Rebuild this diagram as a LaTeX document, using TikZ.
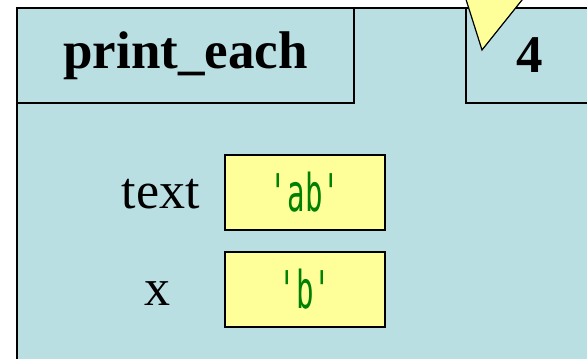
\documentclass[tikz,border=0pt]{standalone}
\usepackage{fontspec}
\setmainfont{Liberation Serif}
\newfontfamily\valfont[FakeStretch=0.56]{DejaVu Sans Mono}
\usetikzlibrary{positioning}
\definecolor{framebg}{RGB}{186,223,227}
\definecolor{valbg}{RGB}{255,255,153}
\definecolor{valtext}{RGB}{0,128,0}
\tikzset{
  framebox/.style={rectangle, draw=black, line width=1pt, fill=framebg, inner sep=0pt, anchor=north west},
  valbox/.style={rectangle, draw=black, line width=1pt, fill=valbg, minimum width=80pt, minimum height=37.5pt, inner sep=0pt, font=\valfont\fontsize{26}{30}\selectfont, text=valtext},
  varname/.style={inner sep=0pt, font=\fontsize{26}{30}\selectfont}
}
\begin{document}
\begin{tikzpicture}[x=0.5pt, y=-0.5pt]
\useasboundingbox (0,0) rectangle (587,358);
\clip (0,0) rectangle (587,358);
% call frame
\node[framebox, minimum width=292pt, minimum height=176pt] (frame) at (16,7) {};
\node[framebox, minimum width=168.5pt, minimum height=47.5pt, font=\fontsize{26.5}{30}\selectfont\bfseries] (fname) at (16,7) {print\_each};
\node[framebox, minimum width=63.5pt, minimum height=47.5pt, font=\fontsize{26.5}{30}\selectfont\bfseries] (fline) at (465,7) {4};
% instruction pointer
\draw[fill=valbg, line width=0.6pt] (463,-10) -- (482,50) -- (530,-10) -- cycle;
% variables
\node[valbox] (val-text) at (305,192.5) {'ab'};
\node[valbox] (val-x) at (305,289) {'b'};
\node[varname, left=12pt of val-text, yshift=-1pt] (lbl-text) {text};
\node[varname] (lbl-x) at ([xshift=-1.5pt, yshift=-2.5pt]lbl-text.center |- val-x.center) {x};
\end{tikzpicture}
\end{document}
